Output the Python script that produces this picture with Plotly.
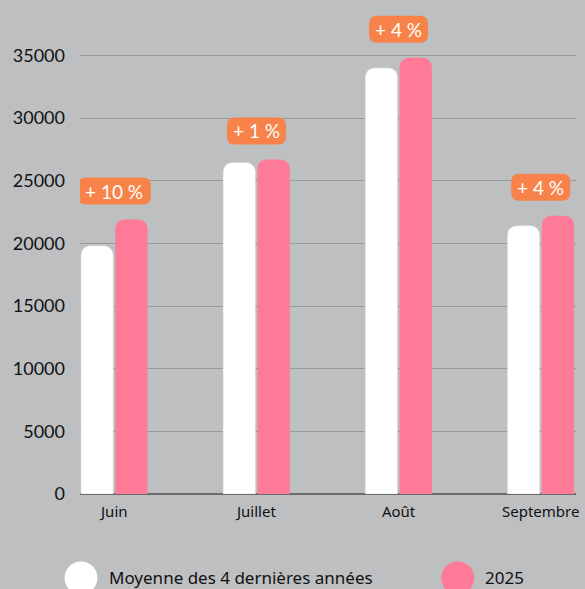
import plotly.graph_objects as go

months = ["Juin", "Juillet", "Août", "Septembre"]
avg_4y = [19800, 26450, 34000, 21400]
y2025 = [21900, 26700, 34800, 22200]
badges = ["+ 10 %", "+ 1 %", "+ 4 %", "+ 4 %"]
series_names = ["Moyenne des 4 dernières années", "2025"]
y_ticks = [0, 5000, 10000, 15000, 20000, 25000, 30000, 35000]

BG = "#BEBFC1"
WHITE = "#FFFFFF"
PINK = "#FE7A96"
ORANGE = "#F7834A"

W, H = 585, 589
ML, MR, MT, MB = 80, 6, 10, 95
PW, PH = W - ML - MR, H - MT - MB


def px_to_paper(px, py):
    return (px - ML) / PW, (H - MB - py) / PH


fig = go.Figure()
fig.add_trace(go.Bar(x=months, y=avg_4y, name=series_names[0],
                     marker=dict(color=WHITE, line=dict(color="#d9d9d9", width=0.6)),
                     showlegend=False, hoverinfo="skip"))
fig.add_trace(go.Bar(x=months, y=y2025, name=series_names[1],
                     marker=dict(color=PINK, line=dict(width=0)),
                     showlegend=False, hoverinfo="skip"))

# badges
for m, v, t in zip(months, y2025, badges):
    w = 17 + 14 * len(t.replace(" ", ""))
    h = 27
    b = 15
    r = 8
    x0, x1 = -w / 2, w / 2
    y0, y1 = b, b + h
    path = (f"M {x0 + r},{y0} L {x1 - r},{y0} Q {x1},{y0} {x1},{y0 + r} "
            f"L {x1},{y1 - r} Q {x1},{y1} {x1 - r},{y1} L {x0 + r},{y1} "
            f"Q {x0},{y1} {x0},{y1 - r} L {x0},{y0 + r} Q {x0},{y0} {x0 + r},{y0} Z")
    fig.add_shape(type="path", path=path, xref="x", yref="y",
                  xsizemode="pixel", ysizemode="pixel", xanchor=m, yanchor=v,
                  fillcolor=ORANGE, line=dict(width=0), layer="above")
    fig.add_annotation(x=m, y=v, xref="x", yref="y", text=t, showarrow=False,
                       yshift=b + h / 2, font=dict(family="Lato", size=19, color="white"))

# manual legend
legend_items = [(81, WHITE, 107, series_names[0]), (460, PINK, 485, series_names[1])]
for cx, col, tx, name in legend_items:
    cy, rr = 578, 16.5
    xa, ya = px_to_paper(cx - rr, cy - rr)
    xb, yb = px_to_paper(cx + rr, cy + rr)
    fig.add_shape(type="circle", xref="paper", yref="paper", x0=xa, x1=xb, y0=yb, y1=ya,
                  fillcolor=col, line=dict(width=0))
    tx_p, ty_p = px_to_paper(tx, 577)
    fig.add_annotation(x=tx_p, y=ty_p, xref="paper", yref="paper", text=name,
                       showarrow=False, xanchor="left", yanchor="middle",
                       font=dict(family="Noto Sans", size=17, color="#111111"))

fig.update_layout(
    width=W, height=H,
    margin=dict(l=ML, r=MR, t=MT, b=MB, pad=0),
    paper_bgcolor=BG, plot_bgcolor=BG,
    barmode="group", bargap=0.517, bargroupgap=0.06, barcornerradius=9,
    showlegend=False,
    xaxis=dict(type="category", range=[-0.241, 3.248],
               showgrid=False, zeroline=False, showline=False,
               ticks="", ticklabelstandoff=7,
               tickfont=dict(family="Noto Sans", size=15, color="#111111")),
    yaxis=dict(range=[0, 38620], tickvals=y_ticks, tickformat="d", showgrid=True,
               gridcolor="#999999", gridwidth=1, zeroline=True, zerolinecolor="#6b6b6b",
               zerolinewidth=1.5, showline=False, ticks="", ticklabelstandoff=14,
               tickfont=dict(family="Lato", size=18, color="#111111")),
)

fig.write_html("out.html", config={"displayModeBar": False},
               post_script="document.body.style.margin='0';document.body.style.background='#BEBFC1';")
